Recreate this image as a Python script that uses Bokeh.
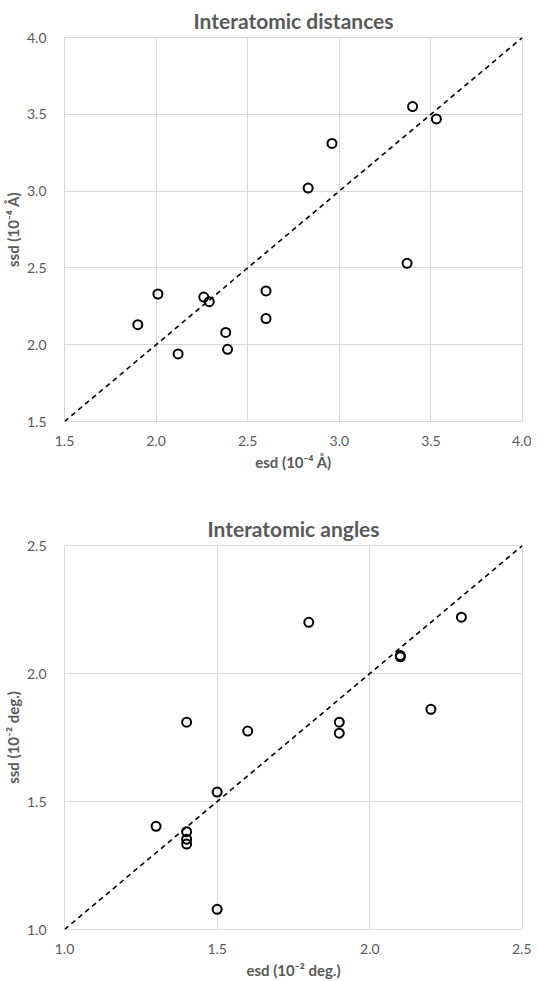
from bokeh.plotting import figure
from bokeh.layouts import column
from bokeh.models import FixedTicker, Range1d, NumeralTickFormatter
from bokeh.embed import file_html
from bokeh.resources import INLINE

# Interatomic distances (10^-4 Å)
dist_esd = [3.40, 3.53, 2.96, 2.83, 3.37, 2.01, 1.90, 2.26, 2.29, 2.60, 2.60, 2.38, 2.39, 2.12]
dist_ssd = [3.55, 3.47, 3.31, 3.02, 2.53, 2.33, 2.13, 2.31, 2.28, 2.35, 2.17, 2.08, 1.97, 1.94]
dist_range = [1.5, 4.0]
dist_ticks = [1.5, 2.0, 2.5, 3.0, 3.5, 4.0]

# Interatomic angles (10^-2 deg.)
ang_esd = [1.8, 2.3, 2.1, 2.1, 2.2, 1.4, 1.6, 1.9, 1.9, 1.5, 1.3, 1.4, 1.4, 1.4, 1.5]
ang_ssd = [2.20, 2.22, 2.065, 2.07, 1.86, 1.81, 1.775, 1.81, 1.767, 1.537, 1.403, 1.382, 1.353, 1.334, 1.079]
ang_range = [1.0, 2.5]
ang_ticks = [1.0, 1.5, 2.0, 2.5]

FONT = "Lato"
GRAY = "#595959"
GRID = "#d9d9d9"


def make(title, xs, ys, rng, ticks, xlabel, ylabel, height, top, bottom):
    p = figure(width=528, height=height, output_backend="svg", toolbar_location=None,
               x_range=Range1d(rng[0], rng[1]), y_range=Range1d(rng[0], rng[1]),
               min_border_left=61, min_border_right=9, min_border_top=top,
               min_border_bottom=bottom)
    p.frame_width = 458
    p.frame_height = 384
    p.title.text = title
    p.title.align = "center"
    p.title.text_font = FONT
    p.title.text_font_size = "21px"
    p.title.text_font_style = "bold"
    p.title.text_color = GRAY
    p.outline_line_color = GRID
    for ax, lab in ((p.xaxis, xlabel), (p.yaxis, ylabel)):
        ax.ticker = FixedTicker(ticks=ticks)
        ax.formatter = NumeralTickFormatter(format="0.0")
        ax.axis_line_color = None
        ax.major_tick_line_color = None
        ax.minor_tick_line_color = None
        ax.major_label_text_font = FONT
        ax.major_label_text_font_size = "14px"
        ax.major_label_text_color = GRAY
        ax.axis_label = lab
        ax.axis_label_text_font = FONT
        ax.axis_label_text_font_size = "15px"
        ax.axis_label_text_font_style = "bold"
        ax.axis_label_text_color = GRAY
    p.xaxis.major_label_standoff = 8
    p.xaxis.axis_label_standoff = 4
    p.yaxis.major_label_standoff = 12
    p.yaxis.axis_label_standoff = 2
    p.grid.grid_line_color = GRID
    p.grid.grid_line_width = 1
    p.line(rng, rng, line_color="black", line_width=1.6, line_dash="5 4")
    p.scatter(xs, ys, marker="circle", size=9, fill_color=None,
              line_color="black", line_width=2)
    return p


p1 = make("Interatomic distances", dist_esd, dist_ssd, dist_range, dist_ticks,
          "esd (10⁻⁴ Å)", "ssd (10⁻⁴ Å)", 481, 32, 65)
p2 = make("Interatomic angles", ang_esd, ang_ssd, ang_range, ang_ticks,
          "esd (10⁻² deg.)", "ssd (10⁻² deg.)", 484, 59, 41)

layout = column(p1, p2, spacing=0)
open("out.html", "w").write(file_html(layout, INLINE))
